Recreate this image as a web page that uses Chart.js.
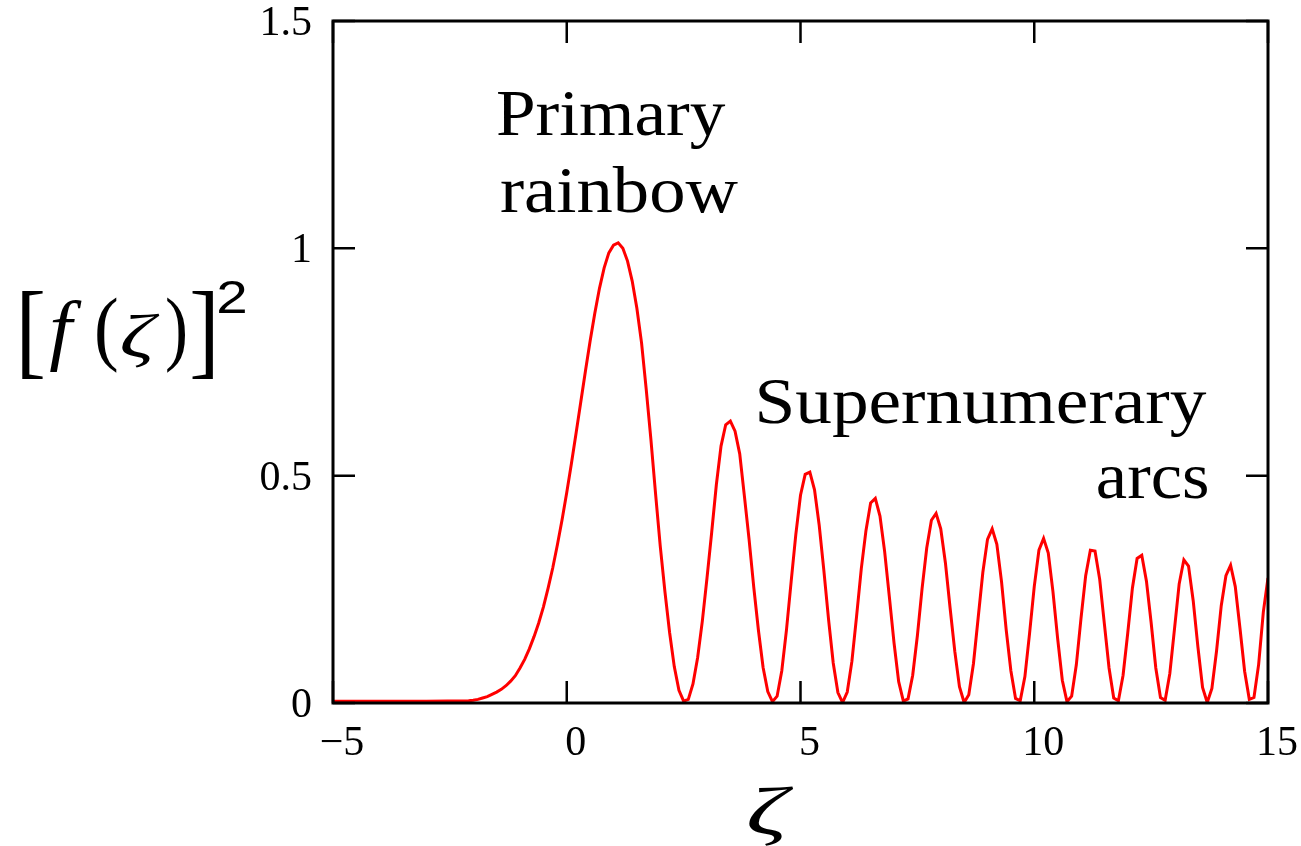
<!DOCTYPE html>
<html><head><meta charset="utf-8">
<script src="https://cdn.jsdelivr.net/npm/chart.js@4.4.0/dist/chart.umd.min.js"></script>
<style>html,body{margin:0;padding:0;background:#fff;}#wrap{width:1301px;height:846px;position:relative;}</style>
</head><body><div id="wrap"><canvas id="c" width="1301" height="846"></canvas></div>
<script>
// ---- data ----
const zetaTail = [-5.0, -4.0, -3.0, -2.1];
const intensityTail = [0.004, 0.004, 0.004, 0.005];

const zetaPrimary = [
  -2.0,-1.9,-1.8,-1.7,-1.6,-1.5,-1.4,-1.3,-1.2,-1.1,
  -1.0,-0.9,-0.8,-0.7,-0.6,-0.5,-0.4,-0.3,-0.2,-0.1,
  0.0,0.1,0.2,0.3,0.4,0.5,0.6,0.7,0.8,0.9,
  1.0,1.1,1.2,1.3,1.4,1.5,1.6,1.7,1.8,1.9,
  2.0,2.1,2.2,2.3,2.4,2.5
];
const intensityPrimary = [
  0.006,0.008,0.011,0.014,0.019,0.024,0.030,0.038,0.048,0.060,
  0.077,0.096,0.119,0.146,0.176,0.211,0.252,0.297,0.348,0.403,
  0.463,0.527,0.594,0.662,0.730,0.796,0.857,0.912,0.957,0.990,
  1.007,1.012,1.000,0.972,0.928,0.868,0.792,0.690,0.580,0.460,
  0.345,0.245,0.155,0.080,0.028,0.004
];

const zetaSupernumerary = [
  2.6,2.7,2.8,2.9,3.0,3.1,3.2,3.3,3.4,3.5,
  3.6,3.7,3.8,3.9,4.0,4.1,4.2,4.3,4.4,4.5,
  4.6,4.7,4.8,4.9,5.0,5.1,5.2,5.3,5.4,5.5,
  5.6,5.7,5.8,5.9,6.0,6.1,6.2,6.3,6.4,6.5,
  6.6,6.7,6.8,6.9,7.0,7.1,7.2,7.3,7.4,7.5,
  7.6,7.7,7.8,7.9,8.0,8.1,8.2,8.3,8.4,8.5,
  8.6,8.7,8.8,8.9,9.0,9.1,9.2,9.3,9.4,9.5,
  9.6,9.7,9.8,9.9,10.0,10.1,10.2,10.3,10.4,10.5,
  10.6,10.7,10.8,10.9,11.0,11.1,11.2,11.3,11.4,11.5,
  11.6,11.7,11.8,11.9,12.0,12.1,12.2,12.3,12.4,12.5,
  12.6,12.7,12.8,12.9,13.0,13.1,13.2,13.3,13.4,13.5,
  13.6,13.7,13.8,13.9,14.0,14.1,14.2,14.3,14.4,14.5,
  14.6,14.7,14.8,14.9,15.0
];
const intensitySupernumerary = [
  0.008,0.042,0.100,0.180,0.275,0.375,0.480,0.565,0.612,0.620,
  0.598,0.548,0.455,0.360,0.255,0.160,0.078,0.025,0.003,0.015,
  0.071,0.161,0.267,0.371,0.457,0.503,0.508,0.469,0.391,0.291,
  0.184,0.088,0.023,0.001,0.024,0.092,0.191,0.295,0.379,0.440,
  0.450,0.411,0.333,0.234,0.133,0.047,0.004,0.009,0.061,0.148,
  0.251,0.341,0.402,0.417,0.383,0.308,0.209,0.114,0.036,0.001,
  0.018,0.087,0.187,0.287,0.360,0.383,0.349,0.267,0.161,0.071,
  0.010,0.005,0.058,0.153,0.256,0.336,0.362,0.330,0.245,0.142,
  0.050,0.003,0.015,0.084,0.186,0.280,0.336,0.334,0.272,0.174,
  0.077,0.011,0.005,0.061,0.154,0.253,0.318,0.325,0.268,0.177,
  0.077,0.012,0.006,0.065,0.163,0.262,0.315,0.301,0.225,0.124,
  0.034,0.001,0.032,0.115,0.214,0.280,0.303,0.256,0.165,0.070,
  0.008,0.012,0.085,0.200,0.275
];

const xTickValues = [-5, 0, 5, 10, 15];
const yTickValues = [0, 0.5, 1, 1.5];
const annotationLines = ['Primary', 'rainbow', 'Supernumerary', 'arcs'];

// ---- build points ----
const zeta = [...zetaTail, ...zetaPrimary, ...zetaSupernumerary];
const intensity = [...intensityTail, ...intensityPrimary, ...intensitySupernumerary];
const points = zeta.map((z, i) => ({x: z, y: intensity[i]}));

const SERIF = '"Liberation Serif", "Times New Roman", serif';
const SANS = '"Liberation Sans", Arial, sans-serif';

// draw one glyph so that its ink fills the box [x0,x1] x [top,bottom]
function fitBox(ctx, text, family, style, x0, x1, top, bottom) {
  ctx.font = `${style} 100px ${family}`;
  const m = ctx.measureText(text);
  const h = m.actualBoundingBoxAscent + m.actualBoundingBoxDescent;
  const w = m.actualBoundingBoxLeft + m.actualBoundingBoxRight;
  const sy = (bottom - top) / h;
  const sx = (x1 - x0) / w;
  ctx.save();
  ctx.translate(x0, bottom);
  ctx.scale(sx, sy);
  ctx.fillText(text, m.actualBoundingBoxLeft, -m.actualBoundingBoxDescent);
  ctx.restore();
}
function fitLine(ctx, text, size, x0, x1, baseline) {
  ctx.font = `${size}px ${SERIF}`;
  const m = ctx.measureText(text);
  const inkW = m.actualBoundingBoxLeft + m.actualBoundingBoxRight;
  const sx = (x1 - x0) / inkW;
  ctx.save();
  ctx.translate(x0, baseline);
  ctx.scale(sx, 1);
  ctx.fillText(text, m.actualBoundingBoxLeft, 0);
  ctx.restore();
}
function zeroPadding(s) {
  s.paddingTop = 0; s.paddingBottom = 0; s.paddingLeft = 0; s.paddingRight = 0;
}

const framePlugin = {
  id: 'frame',
  afterDatasetsDraw(chart) {
    const {ctx, chartArea: a, scales: {x, y}} = chart;
    ctx.save();
    ctx.strokeStyle = '#000';
    ctx.lineWidth = 3;
    ctx.strokeRect(a.left, a.top, a.right - a.left, a.bottom - a.top);
    ctx.lineWidth = 2.5;
    const L = 22;
    ctx.beginPath();
    xTickValues.forEach(v => {
      const px = x.getPixelForValue(v);
      ctx.moveTo(px, a.bottom); ctx.lineTo(px, a.bottom - L);
      ctx.moveTo(px, a.top); ctx.lineTo(px, a.top + L);
    });
    yTickValues.forEach(v => {
      const py = y.getPixelForValue(v);
      ctx.moveTo(a.left, py); ctx.lineTo(a.left + L, py);
      ctx.moveTo(a.right, py); ctx.lineTo(a.right - L, py);
    });
    ctx.stroke();
    ctx.restore();
  },
  afterDraw(chart) {
    const ctx = chart.ctx;
    ctx.save();
    ctx.fillStyle = '#000';
    ctx.textAlign = 'left';
    ctx.textBaseline = 'alphabetic';
    // y-axis label [f(ζ)]^2
    fitBox(ctx, '[', SERIF, 'normal', 22, 43, 291, 379);
    fitBox(ctx, 'f', SERIF, 'italic', 50, 82, 299, 371);
    fitBox(ctx, '(', SERIF, 'normal', 97, 117, 297, 373);
    fitBox(ctx, 'ζ', SERIF, 'italic', 122, 160, 315, 368);
    fitBox(ctx, ')', SERIF, 'normal', 167, 185, 297, 373);
    fitBox(ctx, ']', SERIF, 'normal', 192, 213, 291, 379);
    fitBox(ctx, '2', SANS, 'normal', 219, 245, 281, 313);
    // x-axis label
    fitBox(ctx, 'ζ', SERIF, 'italic', 749, 794, 787, 846);
    // annotations
    fitLine(ctx, annotationLines[0], 65, 497, 726, 135);
    fitLine(ctx, annotationLines[1], 65, 501, 738, 212);
    fitLine(ctx, annotationLines[2], 65, 759, 1207, 423);
    fitLine(ctx, annotationLines[3], 65, 1098, 1207, 498);
    ctx.restore();
  }
};

const tickFont = {family: SERIF, size: 42, lineHeight: 1};

new Chart(document.getElementById('c'), {
  type: 'line',
  data: {datasets: [{
    data: points,
    borderColor: '#ff0000',
    borderWidth: 3,
    pointRadius: 0,
    tension: 0,
    fill: false
  }]},
  options: {
    responsive: false,
    animation: false,
    devicePixelRatio: 1,
    layout: {padding: {left: 0, right: 33, top: 21, bottom: 0}},
    plugins: {legend: {display: false}, tooltip: {enabled: false}},
    scales: {
      x: {
        type: 'linear', min: -5, max: 15,
        afterBuildTicks(s) { s.ticks = xTickValues.map(v => ({value: v})); },
        afterFit(s) { s.height = 143; zeroPadding(s); },
        grid: {display: false, drawTicks: false},
        border: {display: false},
        ticks: {autoSkip: false, maxRotation: 0, padding: 20, labelOffset: 9, color: '#000', font: tickFont,
          callback: v => String(v).replace('-', '\u2212')}
      },
      y: {
        type: 'linear', min: 0, max: 1.5,
        afterBuildTicks(s) { s.ticks = yTickValues.map(v => ({value: v})); },
        afterFit(s) { s.width = 333; zeroPadding(s); },
        grid: {display: false, drawTicks: false},
        border: {display: false},
        ticks: {padding: 21, labelOffset: 3, color: '#000', font: tickFont, callback: v => String(v)}
      }
    }
  },
  plugins: [framePlugin]
});
</script>
</body></html>
